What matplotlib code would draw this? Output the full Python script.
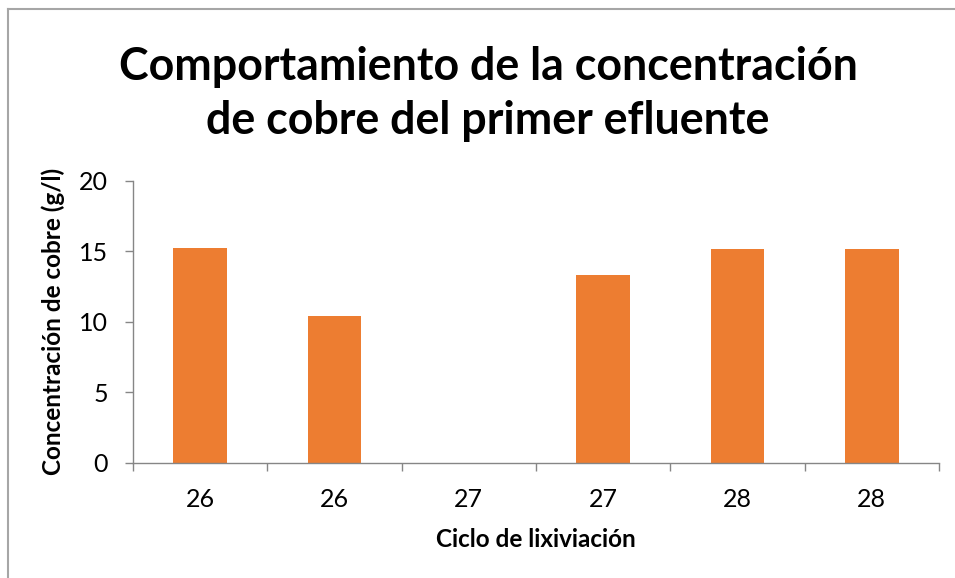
import matplotlib
matplotlib.use("Agg")
import matplotlib.pyplot as plt
from matplotlib.lines import Line2D
import numpy as np

# data
ciclos = ["26", "26", "27", "27", "28", "28"]
concentracion = [15.25, 10.4, 0, 13.3, 15.15, 15.15]

bar_color = "#ED7D31"
axis_color = "#868686"

plt.rcParams['font.family'] = ['Lato', 'DejaVu Sans']

fig = plt.figure(figsize=(9.55, 5.78), dpi=100)
ax = fig.add_axes([133 / 955, 1 - 463 / 578, (939 - 133) / 955, (463 - 180.7) / 578])

x = np.arange(len(ciclos))
ax.bar(x, concentracion, width=0.4, color=bar_color, zorder=2)

ax.set_xlim(-0.5, len(ciclos) - 0.5)
ax.set_ylim(0, 20)
ax.set_yticks([0, 5, 10, 15, 20])

# tick marks on category boundaries, labels centred under bars
ax.set_xticks(np.arange(-0.5, len(ciclos), 1.0))
ax.set_xticklabels([])
ax.set_xticks(x, minor=True)
ax.set_xticklabels(ciclos, minor=True, fontsize=18)
ax.tick_params(axis='x', which='major', length=6, width=1, color=axis_color)
ax.tick_params(axis='x', which='minor', length=0, pad=18)
ax.tick_params(axis='y', length=6, width=1, color=axis_color, labelsize=18, pad=12)

for side in ['top', 'right']:
    ax.spines[side].set_visible(False)
for side in ['left', 'bottom']:
    ax.spines[side].set_color(axis_color)
    ax.spines[side].set_linewidth(1)

ax.set_xlabel("Ciclo de lixiviación", fontsize=17.5, fontweight='bold', labelpad=12)
ax.set_ylabel("Concentración de cobre (g/l)", fontsize=17.5, fontweight='bold', labelpad=10)

fig.text(488 / 955, 1 - 80 / 578, "Comportamiento de la concentración",
         ha='center', va='baseline', fontsize=32.2, fontweight='bold')
fig.text(488 / 955, 1 - 134 / 578, "de cobre del primer efluente",
         ha='center', va='baseline', fontsize=32.2, fontweight='bold')

# chart border (only left and top visible in the crop)
fig.add_artist(Line2D([8 / 955, 8 / 955], [0, 1 - 9 / 578], transform=fig.transFigure,
                      color="#A6A6A6", linewidth=1.5))
fig.add_artist(Line2D([8 / 955, 1], [1 - 9 / 578, 1 - 9 / 578], transform=fig.transFigure,
                      color="#A6A6A6", linewidth=1.5))

fig.savefig("out.png", dpi=100)
